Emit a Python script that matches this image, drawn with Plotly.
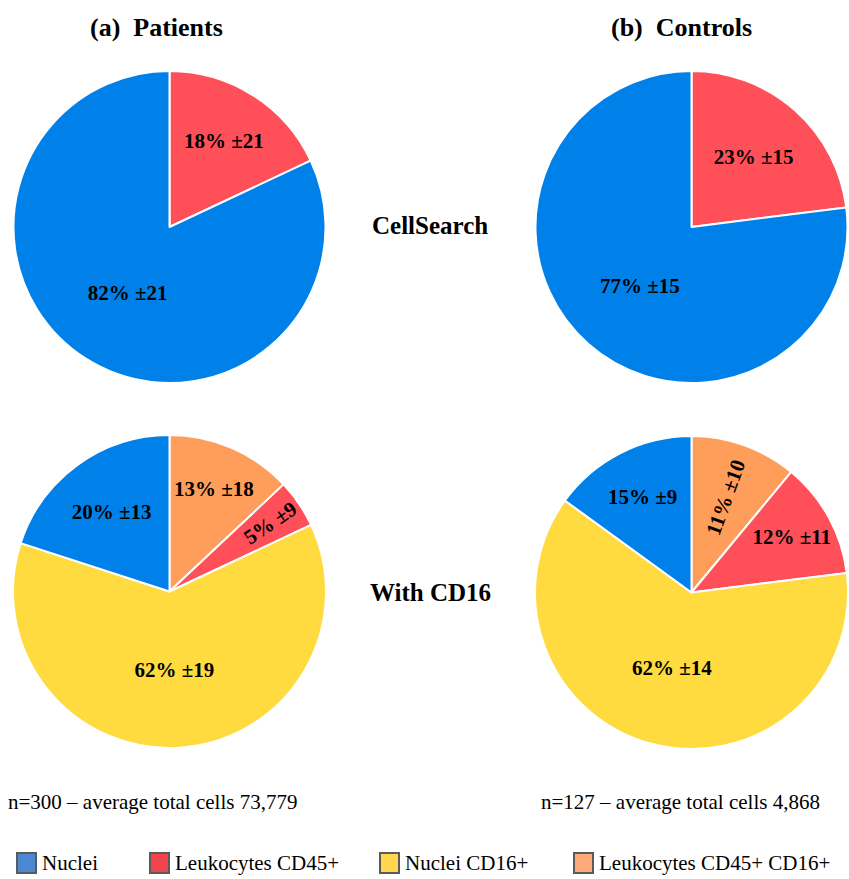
import plotly.graph_objects as go

W, H = 849, 879

# ---- data ----
groups = ["(a)  Patients", "(b)  Controls"]
methods = ["CellSearch", "With CD16"]
footers = ["n=300 – average total cells 73,779", "n=127 – average total cells 4,868"]

cs_labels = ["Leukocytes CD45+", "Nuclei"]
cs_patients = [18, 82]
cs_patients_sd = [21, 21]
cs_controls = [23, 77]
cs_controls_sd = [15, 15]

cd16_labels = ["Leukocytes CD45+ CD16+", "Leukocytes CD45+", "Nuclei CD16+", "Nuclei"]
cd16_patients = [13, 5, 62, 20]
cd16_patients_sd = [18, 9, 19, 13]
cd16_controls = [11, 12, 62, 15]
cd16_controls_sd = [10, 11, 14, 9]

legend_labels = ["Nuclei", "Leukocytes CD45+", "Nuclei CD16+", "Leukocytes CD45+ CD16+"]
pie_colors = {"Nuclei": "#0081EA", "Leukocytes CD45+": "#FF4F58",
              "Nuclei CD16+": "#FFDB3F", "Leukocytes CD45+ CD16+": "#FF9E5A"}
legend_colors = {"Nuclei": "#4A88D2", "Leukocytes CD45+": "#F0444A",
                 "Nuclei CD16+": "#FFD64E", "Leukocytes CD45+ CD16+": "#FFAA7A"}

FONT = "Liberation Serif"

def px(x):
    return x / W

def py(y):
    return 1 - y / H

fig = go.Figure()

panels = [
    (cs_labels, cs_patients, cs_patients_sd, (12, 327), (71, 383)),
    (cs_labels, cs_controls, cs_controls_sd, (534, 849), (71, 383)),
    (cd16_labels, cd16_patients, cd16_patients_sd, (12, 327), (435, 748)),
    (cd16_labels, cd16_controls, cd16_controls_sd, (534, 849), (436, 749)),
]
for labels, vals, sds, (x0, x1), (y0, y1) in panels:
    fig.add_trace(go.Pie(
        labels=labels, values=vals,
        text=[f"{v}% ±{s}" for v, s in zip(vals, sds)],
        textinfo="text", textposition="inside",
        insidetextorientation="auto",
        textfont=dict(family=FONT, size=21, color="black", weight="bold"),
        marker=dict(colors=[pie_colors[l] for l in labels],
                    line=dict(color="white", width=2)),
        sort=False, direction="clockwise", rotation=0,
        domain=dict(x=[px(x0), px(x1)], y=[py(y1), py(y0)]),
        showlegend=False, hoverinfo="label+text",
    ))

ann = []
shapes = []
# column titles
for g, cx in zip(groups, [156, 681]):
    ann.append(dict(x=px(cx), y=py(27), text=f"<b>{g}</b>", showarrow=False,
                    xref="paper", yref="paper", xanchor="center", yanchor="middle",
                    font=dict(family=FONT, size=26, color="black")))
# row labels
for m, cy in zip(methods, [226, 592]):
    ann.append(dict(x=px(430), y=py(cy), text=f"<b>{m}</b>", showarrow=False,
                    xref="paper", yref="paper", xanchor="center", yanchor="middle",
                    font=dict(family=FONT, size=25, color="black")))
# footers
for f, cx in zip(footers, [152, 680]):
    ann.append(dict(x=px(cx), y=py(802), text=f, showarrow=False,
                    xref="paper", yref="paper", xanchor="center", yanchor="middle",
                    font=dict(family=FONT, size=21, color="black")))
# legend
leg_x = [17, 150, 380, 574]
for lab, lx in zip(legend_labels, leg_x):
    shapes.append(dict(type="rect", xref="paper", yref="paper",
                       x0=px(lx), x1=px(lx + 19), y0=py(873), y1=py(853),
                       fillcolor=legend_colors[lab], line=dict(color="#5A5A5A", width=2)))
    ann.append(dict(x=px(lx + 23), y=py(863), text=lab, showarrow=False,
                    xref="paper", yref="paper", xanchor="left", yanchor="middle",
                    font=dict(family=FONT, size=21, color="black")))

fig.update_layout(
    width=W, height=H,
    margin=dict(l=0, r=0, t=0, b=0),
    paper_bgcolor="white", plot_bgcolor="white",
    annotations=ann, shapes=shapes,
    showlegend=False,
)

fig.write_html(
    "out.html",
    config={"displayModeBar": False},
    post_script="document.body.style.margin='0';document.body.style.padding='0';"
                "document.body.style.overflow='hidden';"
                "document.documentElement.style.overflow='hidden';",
)
